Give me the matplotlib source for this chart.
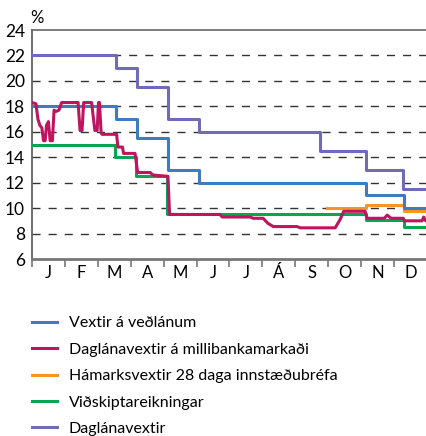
import matplotlib
matplotlib.use("Agg")
import matplotlib.pyplot as plt

plt.rcParams['font.family'] = ['Lato', 'DejaVu Sans']

# month positions: 0 = start of January, 12 = end of December
months = ["J", "F", "M", "A", "M", "J", "J", "Á", "S", "O", "N", "D"]

# Vextir á veðlánum (step changes)
vedlan_x = [0, 2.54, 3.18, 4.14, 5.08, 10.14, 11.29, 12]
vedlan_y = [18, 17, 15.5, 13, 12, 11, 10, 10]

# Daglánavextir á millibankamarkaði
milli_x = [0.00, 0.12, 0.18, 0.24, 0.30, 0.35, 0.40, 0.44, 0.50, 0.55, 0.62,
           0.67, 0.73, 0.82, 0.90, 1.40, 1.46, 1.52, 1.57, 1.81, 1.91, 1.98,
           2.02, 2.05, 2.10, 2.13, 2.57, 2.61, 2.75, 2.78, 3.13, 3.21, 3.59,
           3.68, 4.13, 4.18, 5.71, 5.78, 6.63, 6.72, 7.02, 7.17, 7.33, 8.05,
           8.15, 9.21, 9.36, 9.47, 10.12, 10.18, 10.70, 10.79, 10.91, 11.28,
           11.31, 11.85, 11.90, 11.96, 12.0]
milli_y = [18.3, 18.2, 17.0, 16.5, 16.3, 15.3, 15.3, 16.5, 16.8, 15.3, 15.3,
           17.7, 17.6, 17.7, 18.3, 18.3, 16.1, 16.1, 18.3, 18.3, 16.1, 16.1,
           18.3, 18.3, 15.9, 15.8, 15.8, 14.8, 14.8, 14.3, 14.3, 12.8, 12.8,
           12.6, 12.5, 9.5, 9.5, 9.3, 9.3, 9.2, 9.2, 8.8, 8.55, 8.55,
           8.45, 8.45, 9.1, 9.75, 9.75, 9.2, 9.2, 9.45, 9.2, 9.2,
           9.0, 9.0, 9.3, 9.0, 9.0]

# Hámarksvextir 28 daga innstæðubréfa
hamark_x = [8.96, 10.14, 11.29, 12]
hamark_y = [10.0, 10.25, 9.8, 9.8]

# Viðskiptareikningar
vidsk_x = [0, 2.52, 3.15, 4.10, 10.14, 11.29, 12]
vidsk_y = [15, 14, 12.5, 9.5, 9.1, 8.5, 8.5]

# Daglánavextir
daglan_x = [0, 2.54, 3.18, 4.14, 5.08, 8.75, 10.14, 11.27, 12]
daglan_y = [22, 21, 19.5, 17, 16, 14.5, 13, 11.5, 11.5]

labels = ["Vextir á veðlánum", "Daglánavextir á millibankamarkaði",
          "Hámarksvextir 28 daga innstæðubréfa", "Viðskiptareikningar",
          "Daglánavextir"]
colors = ["#3d7cc0", "#c0145e", "#f7961e", "#0aa551", "#6f6bb5"]

fig = plt.figure(figsize=(4.27, 4.36), dpi=100)
ax = fig.add_axes([32 / 427, 1 - 259 / 436, 395 / 427, 229 / 436])

lw = 2.2
l_green, = ax.plot(vidsk_x, vidsk_y, drawstyle="steps-post", color=colors[3], lw=lw, zorder=3)
l_orange, = ax.plot(hamark_x, hamark_y, drawstyle="steps-post", color=colors[2], lw=lw, zorder=3)
l_blue, = ax.plot(vedlan_x, vedlan_y, drawstyle="steps-post", color=colors[0], lw=lw, zorder=4)
l_red, = ax.plot(milli_x, milli_y, color=colors[1], lw=lw, zorder=5)
l_purple, = ax.plot(daglan_x, daglan_y, drawstyle="steps-post", color=colors[4], lw=lw, zorder=4)

for v in range(8, 23, 2):
    ax.axhline(v, color="#333333", lw=1.0, linestyle=(0, (5.8, 5.8)), zorder=1)

ax.set_xlim(0, 12)
ax.set_ylim(6, 24)
ax.set_yticks(range(6, 25, 2))
ax.tick_params(axis="y", length=0, pad=5, labelsize=12.5)
ax.set_xticks(range(13))
ax.set_xticklabels([])
ax.set_xticks([i + 0.5 for i in range(12)], minor=True)
ax.set_xticklabels(months, minor=True)
ax.tick_params(axis="x", which="major", length=6, width=1.2, color="#777777")
ax.tick_params(axis="x", which="minor", length=0, pad=4, labelsize=12)

ax.spines["right"].set_visible(False)
ax.spines["top"].set_color("#666666")
ax.spines["top"].set_linewidth(1.2)
ax.spines["left"].set_color("#555555")
ax.spines["left"].set_linewidth(1.2)
ax.spines["bottom"].set_color("#777777")
ax.spines["bottom"].set_linewidth(2.0)

fig.text(37 / 427, 1 - 18 / 436, "%", ha="center", va="center", fontsize=12)

handles = [l_blue, l_red, l_orange, l_green, l_purple]
fig.legend(handles, labels, loc="upper left", bbox_to_anchor=(24 / 427, 1 - 308 / 436),
           frameon=False, fontsize=11.5, handlelength=1.55, handletextpad=0.75,
           labelspacing=0.77, borderpad=0)

fig.savefig("out.png", dpi=100)
